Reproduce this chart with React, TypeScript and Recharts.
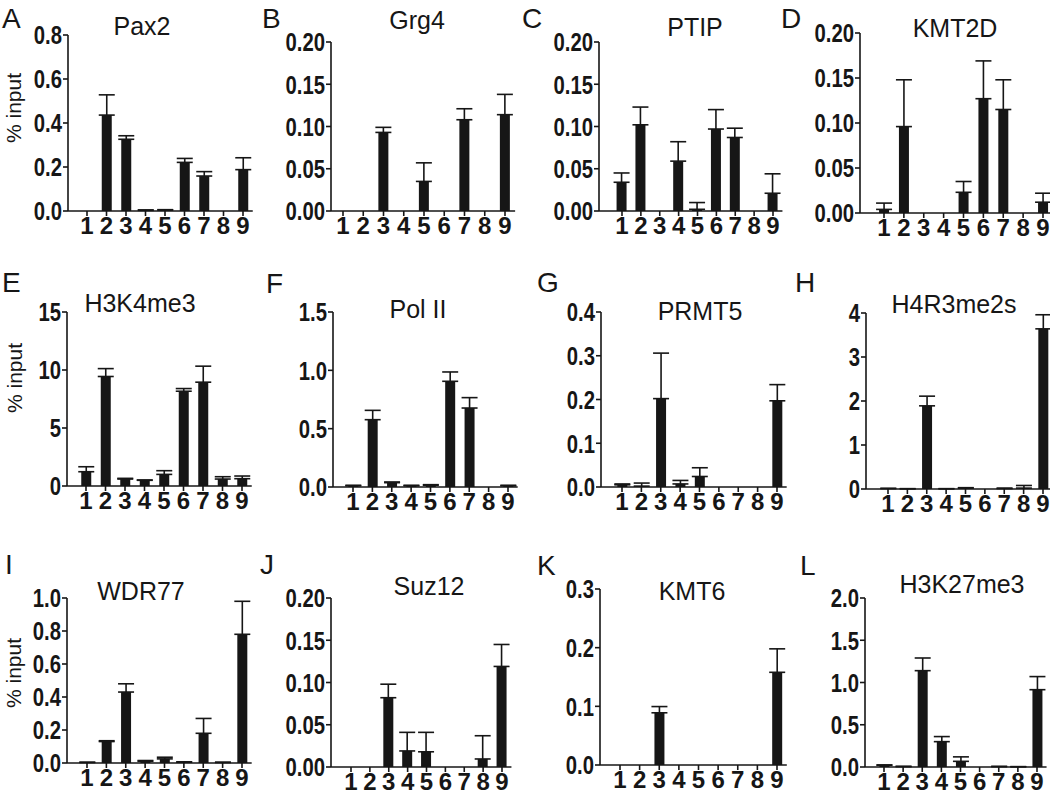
import React from 'react';
import { Bar, BarChart, ErrorBar, XAxis, YAxis } from 'recharts';

// ChIP sites along the locus
const sites = ['1', '2', '3', '4', '5', '6', '7', '8', '9'];

// % input per site, and the upper error (SEM) above each bar
const pax2 = [0, 0.436, 0.326, 0.003, 0.004, 0.221, 0.159, 0, 0.188];
const pax2Err = [0, 0.092, 0.016, 0.002, 0.002, 0.018, 0.02, 0, 0.054];
const grg4 = [0, 0, 0.093, 0, 0.035, 0, 0.108, 0, 0.114];
const grg4Err = [0, 0, 0.006, 0, 0.022, 0, 0.013, 0, 0.024];
const ptip = [0.034, 0.102, 0, 0.059, 0.002, 0.097, 0.087, 0, 0.021];
const ptipErr = [0.011, 0.021, 0, 0.023, 0.008, 0.023, 0.011, 0, 0.023];
const kmt2d = [0.004, 0.096, 0, 0, 0.023, 0.127, 0.115, 0, 0.012];
const kmt2dErr = [0.007, 0.052, 0, 0, 0.012, 0.042, 0.033, 0, 0.01];
const h3k4me3 = [1.23, 9.44, 0.6, 0.49, 1.0, 8.17, 8.95, 0.6, 0.63];
const h3k4me3Err = [0.43, 0.68, 0.06, 0.03, 0.32, 0.23, 1.38, 0.2, 0.23];
const polII = [0.01, 0.577, 0.037, 0.01, 0.015, 0.906, 0.677, 0, 0.01];
const polIIErr = [0.005, 0.08, 0.006, 0.005, 0.005, 0.08, 0.089, 0, 0.005];
const prmt5 = [0.005, 0.002, 0.202, 0.007, 0.024, 0, 0, 0, 0.197];
const prmt5Err = [0.002, 0.007, 0.104, 0.008, 0.02, 0, 0, 0, 0.037];
const h4r3me2s = [0.01, 0.005, 1.89, 0.005, 0.02, 0, 0.01, 0.02, 3.64];
const h4r3me2sErr = [0.005, 0.003, 0.22, 0.003, 0.01, 0, 0.01, 0.06, 0.32];
const wdr77 = [0.003, 0.13, 0.43, 0.01, 0.025, 0.005, 0.18, 0.003, 0.78];
const wdr77Err = [0.002, 0.005, 0.05, 0.005, 0.01, 0.002, 0.09, 0.002, 0.2];
const suz12 = [0, 0, 0.082, 0.019, 0.018, 0, 0, 0.0095, 0.119];
const suz12Err = [0, 0, 0.016, 0.022, 0.023, 0, 0, 0.0275, 0.026];
const kmt6 = [0, 0, 0.089, 0, 0, 0, 0, 0, 0.158];
const kmt6Err = [0, 0, 0.0106, 0, 0, 0, 0, 0, 0.04];
const h3k27me3 = [0.02, 0.005, 1.14, 0.3, 0.067, 0, 0.005, 0.003, 0.915];
const h3k27me3Err = [0.005, 0.003, 0.15, 0.06, 0.053, 0, 0.002, 0.001, 0.155];

// y axis ticks
const ticks08 = [0, 0.2, 0.4, 0.6, 0.8];
const ticks020 = [0, 0.05, 0.1, 0.15, 0.2];
const ticks15 = [0, 5, 10, 15];
const ticks15d = [0, 0.5, 1.0, 1.5];
const ticks04 = [0, 0.1, 0.2, 0.3, 0.4];
const ticks4 = [0, 1, 2, 3, 4];
const ticks10 = [0, 0.2, 0.4, 0.6, 0.8, 1.0];
const ticks03 = [0, 0.1, 0.2, 0.3];
const ticks20 = [0, 0.5, 1.0, 1.5, 2.0];

interface Frame { axisX: number; topY: number; zeroY: number; firstX: number; lastX: number; }
interface PanelSpec {
    letter: string; letterX: number; letterY: number;
    title: string; titleX: number; titleY: number;
    values: number[]; errors: number[]; ticks: number[]; decimals: number;
    frame: Frame;
}

const panels: PanelSpec[] = [
    { letter: 'A', letterX: 2, letterY: 28, title: 'Pax2', titleX: 142, titleY: 35, values: pax2, errors: pax2Err, ticks: ticks08, decimals: 1,
        frame: { axisX: 68, topY: 35, zeroY: 211, firstX: 87, lastX: 243 } },
    { letter: 'B', letterX: 262, letterY: 28, title: 'Grg4', titleX: 417, titleY: 29, values: grg4, errors: grg4Err, ticks: ticks020, decimals: 2,
        frame: { axisX: 331, topY: 42, zeroY: 211, firstX: 343, lastX: 505 } },
    { letter: 'C', letterX: 522, letterY: 28, title: 'PTIP', titleX: 695, titleY: 36, values: ptip, errors: ptipErr, ticks: ticks020, decimals: 2,
        frame: { axisX: 599, topY: 42, zeroY: 211, firstX: 622, lastX: 773 } },
    { letter: 'D', letterX: 781, letterY: 28, title: 'KMT2D', titleX: 955, titleY: 37, values: kmt2d, errors: kmt2dErr, ticks: ticks020, decimals: 2,
        frame: { axisX: 860, topY: 33, zeroY: 213, firstX: 884, lastX: 1043 } },
    { letter: 'E', letterX: 2, letterY: 292, title: 'H3K4me3', titleX: 140, titleY: 312, values: h3k4me3, errors: h3k4me3Err, ticks: ticks15, decimals: 0,
        frame: { axisX: 67, topY: 312, zeroY: 486, firstX: 86, lastX: 242 } },
    { letter: 'F', letterX: 266, letterY: 293, title: 'Pol II', titleX: 418, titleY: 318, values: polII, errors: polIIErr, ticks: ticks15d, decimals: 1,
        frame: { axisX: 333, topY: 312, zeroY: 487, firstX: 353, lastX: 508 } },
    { letter: 'G', letterX: 537, letterY: 292, title: 'PRMT5', titleX: 700, titleY: 320, values: prmt5, errors: prmt5Err, ticks: ticks04, decimals: 1,
        frame: { axisX: 601, topY: 312, zeroY: 487, firstX: 622, lastX: 777 } },
    { letter: 'H', letterX: 795, letterY: 292, title: 'H4R3me2s', titleX: 954, titleY: 313, values: h4r3me2s, errors: h4r3me2sErr, ticks: ticks4, decimals: 0,
        frame: { axisX: 866, topY: 313, zeroY: 489, firstX: 888, lastX: 1043 } },
    { letter: 'I', letterX: 5, letterY: 574, title: 'WDR77', titleX: 141, titleY: 600, values: wdr77, errors: wdr77Err, ticks: ticks10, decimals: 1,
        frame: { axisX: 67, topY: 598, zeroY: 763, firstX: 87, lastX: 242 } },
    { letter: 'J', letterX: 260, letterY: 574, title: 'Suz12', titleX: 429, titleY: 595, values: suz12, errors: suz12Err, ticks: ticks020, decimals: 2,
        frame: { axisX: 331, topY: 598, zeroY: 767, firstX: 351, lastX: 502 } },
    { letter: 'K', letterX: 537, letterY: 575, title: 'KMT6', titleX: 692, titleY: 600, values: kmt6, errors: kmt6Err, ticks: ticks03, decimals: 1,
        frame: { axisX: 600, topY: 589, zeroY: 765, firstX: 620, lastX: 777 } },
    { letter: 'L', letterX: 800, letterY: 575, title: 'H3K27me3', titleX: 962, titleY: 593, values: h3k27me3, errors: h3k27me3Err, ticks: ticks20, decimals: 1,
        frame: { axisX: 865, topY: 598, zeroY: 767, firstX: 884, lastX: 1037 } },
];

const yLabels = [
    { x: 21, y: 108 },
    { x: 22, y: 378 },
    { x: 21, y: 673 },
];

const INK = '#161616';
const SANS = '"Liberation Sans", Arial, Helvetica, sans-serif';
const Y_W = 60;
const M_T = 15;
const X_H = 40;

// condensed bold tick labels, like the Prism axis font
function YTick(props: any) {
    const { x, y, payload, decimals } = props;
    return (
        <g transform={`translate(${x},${y})`}>
            <text transform="scale(0.78,1)" textAnchor="end" dy="0.36em" fontSize={26} fontWeight={700}
                fontFamily={SANS} fill={INK}>
                {Number(payload.value).toFixed(decimals)}
            </text>
        </g>
    );
}

function Panel({ p }: { p: PanelSpec }) {
    const { axisX, topY, zeroY, firstX, lastX } = p.frame;
    const band = (lastX - firstX) / 8;
    const plotW = lastX + band / 2 - axisX;
    const width = Y_W + plotW + 2;
    const height = M_T + (zeroY - topY) + X_H;
    const rows = sites.map((s, i) => ({ site: s, value: p.values[i], err: [0, p.errors[i]] }));
    const max = p.ticks[p.ticks.length - 1];

    return (
        <div style={{ position: 'absolute', left: axisX - Y_W, top: topY - M_T }}>
            <BarChart width={width} height={height} data={rows}
                margin={{ top: M_T, right: 2, bottom: 0, left: 0 }}>
                <XAxis
                    dataKey="site"
                    height={X_H}
                    interval={0}
                    padding={{ left: firstX - band / 2 - axisX, right: 0 }}
                    axisLine={{ stroke: INK, strokeWidth: 1.6 }}
                    tickLine={{ stroke: INK, strokeWidth: 1.6 }}
                    tickSize={5}
                    tickMargin={1}
                    tick={{ fontSize: 24, fontWeight: 700, fontFamily: SANS, fill: INK }}
                />
                <YAxis
                    width={Y_W}
                    domain={[0, max]}
                    ticks={p.ticks}
                    interval={0}
                    axisLine={{ stroke: INK, strokeWidth: 1.6 }}
                    tickLine={{ stroke: INK, strokeWidth: 1.6 }}
                    tickSize={5}
                    tickMargin={1}
                    tick={(t: any) => <YTick {...t} decimals={p.decimals} />}
                />
                <Bar dataKey="value" fill={INK} barSize={10} isAnimationActive={false}>
                    <ErrorBar dataKey="err" width={8} stroke={INK} strokeWidth={1.6} direction="y" />
                </Bar>
            </BarChart>
        </div>
    );
}

export default function App() {
    return (
        <div style={{ position: 'absolute', left: 0, top: 0, width: 1050, height: 795, overflow: 'hidden', background: '#fff' }}>
            {panels.map(p => <Panel key={p.letter} p={p} />)}
            <svg width={1050} height={795} style={{ position: 'absolute', left: 0, top: 0, pointerEvents: 'none' }}>
                {panels.map(p => (
                    <g key={p.letter}>
                        <text x={p.letterX} y={p.letterY} fontSize={28} fontFamily={SANS} fill={INK}>{p.letter}</text>
                        <text x={p.titleX} y={p.titleY} fontSize={25} fontFamily={SANS} fill={INK} textAnchor="middle">{p.title}</text>
                    </g>
                ))}
                {yLabels.map((l, i) => (
                    <text key={i} x={l.x} y={l.y} fontSize={21} fontFamily={SANS} fill={INK} textAnchor="middle"
                        transform={`rotate(-90, ${l.x}, ${l.y})`}>% input</text>
                ))}
            </svg>
        </div>
    );
}
